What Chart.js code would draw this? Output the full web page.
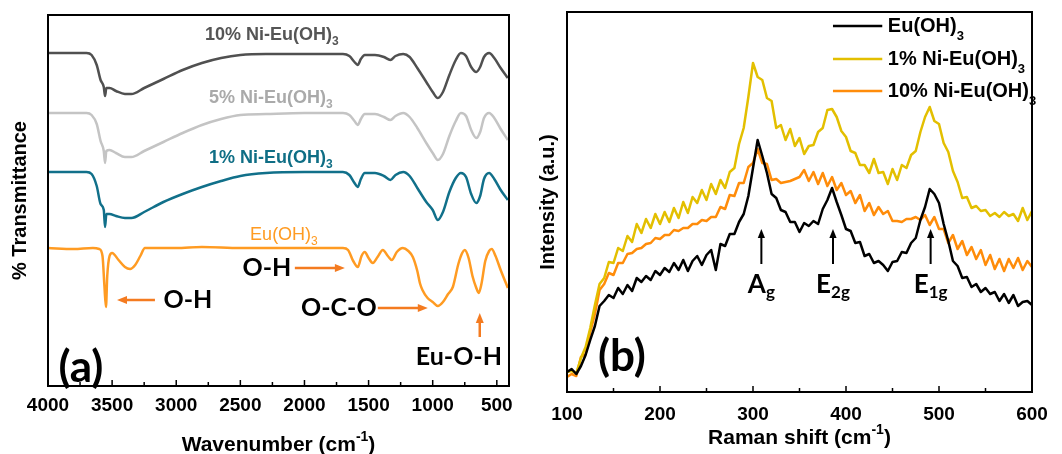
<!DOCTYPE html>
<html>
<head>
<meta charset="utf-8">
<title>FTIR and Raman spectra</title>
<script src="https://cdn.jsdelivr.net/npm/chart.js@4.4.1/dist/chart.umd.min.js"></script>
<style>
  html, body { margin: 0; padding: 0; background: #fff; }
  #wrap { position: relative; width: 1062px; height: 454px; }
  #ftir { position: absolute; left: 0; top: 0; }
  #raman { position: absolute; left: 530px; top: 0; }
</style>
</head>
<body>
<div id="wrap">
  <canvas id="ftir" width="530" height="454"></canvas>
  <canvas id="raman" width="532" height="454"></canvas>
</div>
<script>
// ---- (a) FTIR, wavenumber in cm-1, transmittance in arbitrary offset units
const wnNi = [4000, 3800, 3700, 3660, 3620, 3590, 3565, 3555, 3545, 3520, 3470, 3400, 3350, 3250, 3100, 2950, 2800, 2650, 2500, 2300,
  2000, 1700, 1650, 1610, 1585, 1560, 1530, 1450, 1380, 1330, 1290, 1230, 1180, 1120, 1050, 1000, 960, 920, 870, 820,
  780, 740, 700, 660, 630, 600, 560, 520, 470, 414];
const ftirNi10 = [333, 333, 333, 331, 321, 306, 299, 290, 298, 298, 295, 292, 292, 298, 307, 316, 323, 328, 331, 332,
  332, 332, 330, 324, 321, 327, 331, 331, 329, 326, 330, 332, 329, 318, 304, 294, 288, 294, 311, 326,
  333, 330, 319, 314, 319, 329, 333, 328, 318, 308];
const ftirNi5 = [273, 273, 273, 271, 262, 245, 235, 223, 235, 236, 233, 229, 229, 235, 244, 253, 261, 267, 271, 272,
  273, 273, 271, 265, 261, 267, 272, 272, 269, 266, 270, 273, 269, 258, 243, 233, 226, 232, 250, 265,
  273, 270, 256, 248, 254, 268, 273, 268, 257, 246];
const ftirNi1 = [214, 214, 214, 212, 200, 182, 176, 159, 172, 172, 170, 168, 168, 174, 184, 192, 199, 205, 210, 213,
  214, 214, 211, 203, 199, 207, 213, 213, 210, 206, 211, 214, 210, 198, 184, 176, 166, 174, 194, 208,
  213, 209, 192, 183, 190, 207, 213, 207, 196, 186];
const wnEu = [4000, 3800, 3650, 3600, 3575, 3560, 3548, 3538, 3520, 3500, 3450, 3400, 3360, 3320, 3280, 3244, 3000, 2800, 2500, 2000,
  1700, 1660, 1620, 1584, 1555, 1530, 1500, 1467, 1430, 1389, 1350, 1319, 1280, 1233, 1190, 1155, 1120, 1100, 1080, 1040,
  1000, 960, 920, 880, 843, 800, 770, 750, 720, 690, 660, 641, 620, 590, 560, 540, 510, 470, 414];
const ftirEu = [138, 137, 138, 137, 130, 100, 79, 110, 130, 133, 126, 119, 117, 121, 130, 138, 138, 139, 138, 138,
  138, 136, 125, 119, 130, 134, 128, 123, 129, 136, 130, 126, 134, 138, 135, 129, 115, 103, 96, 88,
  84, 80, 84, 92, 99, 122, 133, 136, 128, 110, 98, 93, 102, 125, 135, 137, 130, 116, 98];
const ftirTicks = [4000, 3500, 3000, 2500, 2000, 1500, 1000, 500];
const ftirMinor = [3750, 3250, 2750, 2250, 1750, 1250, 750];

// ---- (b) Raman, shift in cm-1, intensity in a.u.
const ramanShift = [100, 105, 110, 115, 120, 125, 130, 135, 140, 145, 150, 155, 160, 165, 170, 175, 180, 185, 190, 195,
  200, 205, 210, 215, 220, 225, 230, 235, 240, 245, 250, 255, 260, 265, 270, 275, 280, 285, 290, 295,
  300, 305, 310, 315, 320, 325, 330, 335, 340, 345, 350, 355, 360, 365, 370, 375, 380, 385, 390, 395,
  400, 405, 410, 415, 420, 425, 430, 435, 440, 445, 450, 455, 460, 465, 470, 475, 480, 485, 490, 495,
  500, 505, 510, 515, 520, 525, 530, 535, 540, 545, 550, 555, 560, 565, 570, 575, 580, 585, 590, 595, 600];
const ramanEu = [20, 23, 18, 26, 37, 52, 66, 86, 91, 97, 94, 104, 98, 107, 101, 114, 110, 116, 112, 121,
  117, 124, 120, 129, 122, 132, 121, 131, 136, 127, 137, 142, 122, 148, 146, 158, 158, 170, 178, 196,
  224, 252, 236, 219, 198, 194, 182, 180, 170, 170, 160, 169, 166, 171, 168, 183, 192, 204, 190, 177,
  163, 161, 149, 150, 136, 138, 129, 131, 127, 121, 130, 131, 140, 139, 149, 154, 172, 185, 203, 198,
  189, 168, 151, 131, 126, 114, 115, 105, 108, 100, 104, 98, 100, 91, 98, 89, 97, 86, 90, 91, 87];
const ramanNi1 = [20, 21, 19, 34, 45, 64, 87, 108, 114, 130, 129, 144, 141, 156, 150, 168, 159, 173, 164, 178,
  168, 180, 170, 184, 174, 190, 179, 195, 189, 202, 192, 208, 198, 212, 204, 220, 224, 248, 264, 295,
  329, 315, 312, 294, 291, 264, 267, 252, 263, 246, 254, 238, 246, 247, 260, 264, 282, 283, 275, 261,
  255, 241, 239, 227, 227, 219, 233, 219, 220, 208, 223, 212, 227, 224, 237, 241, 260, 275, 285, 271,
  268, 249, 240, 221, 210, 194, 195, 184, 186, 181, 182, 176, 179, 175, 180, 176, 178, 171, 184, 172, 181];
const ramanNi10 = [15, 18, 16, 35, 38, 60, 78, 102, 108, 119, 117, 129, 129, 138, 139, 143, 144, 148, 149, 154,
  153, 157, 157, 162, 161, 164, 164, 168, 168, 172, 171, 175, 175, 185, 183, 197, 196, 209, 209, 225,
  229, 243, 229, 228, 212, 213, 209, 210, 211, 213, 215, 222, 211, 220, 208, 219, 206, 215, 202, 209,
  197, 201, 189, 197, 181, 189, 177, 185, 178, 181, 171, 171, 170, 173, 173, 175, 172, 177, 167, 175,
  163, 163, 149, 157, 143, 151, 137, 145, 133, 142, 127, 137, 123, 133, 121, 133, 124, 134, 122, 131, 125];
const ramanTicks = [100, 200, 300, 400, 500, 600];
const ramanMinor = [150, 250, 350, 450, 550];

const FONT = "'Liberation Sans', Arial, sans-serif";
const NOTE_FONT = "Lato, 'Open Sans', sans-serif";

function pts(xs, ys) {
  return xs.map((x, i) => ({ x: x, y: ys[i] }));
}

// text with _{sub} and ^{sup} parts
function richParts(s) {
  const parts = [];
  const re = /([_^])\{([^}]*)\}/g;
  let last = 0, m;
  while ((m = re.exec(s))) {
    if (m.index > last) parts.push({ t: s.slice(last, m.index), k: 'n' });
    parts.push({ t: m[2], k: m[1] === '_' ? 'sub' : 'sup' });
    last = re.lastIndex;
  }
  if (last < s.length) parts.push({ t: s.slice(last), k: 'n' });
  return parts;
}

function drawRich(ctx, s, x, y, o) {
  const small = Math.round(o.size * 0.66);
  const fam = o.family || FONT;
  const weight = o.weight || 'bold';
  const fontOf = k => `${weight} ${k === 'n' ? o.size : small}px ${fam}`;
  const parts = richParts(s);
  let w = 0;
  parts.forEach(p => { ctx.font = fontOf(p.k); p.w = ctx.measureText(p.t).width; w += p.w; });
  let cx = o.align === 'left' ? x : x - w / 2;
  ctx.fillStyle = o.color || '#000';
  ctx.textBaseline = 'middle';
  ctx.textAlign = 'left';
  parts.forEach(p => {
    ctx.font = fontOf(p.k);
    let dy = 0;
    if (p.k === 'sub') dy = o.size * (o.subDrop || 0.38);
    if (p.k === 'sup') dy = -o.size * 0.38;
    ctx.fillText(p.t, cx, y + dy);
    cx += p.w;
  });
}

function drawArrow(ctx, x1, y1, x2, y2, color, width, head) {
  const ang = Math.atan2(y2 - y1, x2 - x1);
  const hl = head || 10;
  ctx.strokeStyle = color;
  ctx.fillStyle = color;
  ctx.lineWidth = width;
  ctx.beginPath();
  ctx.moveTo(x1, y1);
  ctx.lineTo(x2 - Math.cos(ang) * hl * 0.8, y2 - Math.sin(ang) * hl * 0.8);
  ctx.stroke();
  ctx.beginPath();
  ctx.moveTo(x2, y2);
  ctx.lineTo(x2 - hl * Math.cos(ang) + hl * 0.4 * Math.sin(ang), y2 - hl * Math.sin(ang) - hl * 0.4 * Math.cos(ang));
  ctx.lineTo(x2 - hl * Math.cos(ang) - hl * 0.4 * Math.sin(ang), y2 - hl * Math.sin(ang) + hl * 0.4 * Math.cos(ang));
  ctx.closePath();
  ctx.fill();
}

// frame, inward ticks, notes, arrows, legend and x title
function makeDecor(cfg) {
  return {
    id: 'decor',
    afterDatasetsDraw(chart) {
      const { ctx, chartArea: a, scales: { x, y } } = chart;
      ctx.save();
      (cfg.arrows || []).forEach(ar => {
        drawArrow(ctx, x.getPixelForValue(ar.x1), y.getPixelForValue(ar.y1),
          x.getPixelForValue(ar.x2), y.getPixelForValue(ar.y2), ar.color, ar.width, ar.head);
      });
      (cfg.texts || []).forEach(t => {
        drawRich(ctx, t.text, x.getPixelForValue(t.x), y.getPixelForValue(t.y), t);
      });
      if (cfg.legend) {
        const lg = cfg.legend;
        chart.data.datasets.forEach((ds, i) => {
          const py = y.getPixelForValue(lg.y[i]);
          ctx.strokeStyle = ds.borderColor;
          ctx.lineWidth = 2.5;
          ctx.beginPath();
          ctx.moveTo(x.getPixelForValue(lg.x1), py);
          ctx.lineTo(x.getPixelForValue(lg.x2), py);
          ctx.stroke();
          drawRich(ctx, ds.label, x.getPixelForValue(lg.xText), py, { size: 20, align: 'left', color: '#000', subDrop: 0.5 });
        });
      }
      // frame
      ctx.strokeStyle = '#000';
      ctx.lineWidth = 2;
      ctx.strokeRect(a.left, a.top, a.right - a.left, a.bottom - a.top);
      ctx.lineWidth = 1.5;
      cfg.major.forEach(v => {
        const px = x.getPixelForValue(v);
        ctx.beginPath(); ctx.moveTo(px, a.bottom); ctx.lineTo(px, a.bottom - 6); ctx.stroke();
      });
      cfg.minor.forEach(v => {
        const px = x.getPixelForValue(v);
        ctx.beginPath(); ctx.moveTo(px, a.bottom); ctx.lineTo(px, a.bottom - 4); ctx.stroke();
      });
      drawRich(ctx, cfg.xTitle, (a.left + a.right) / 2, cfg.xTitleY, { size: 21, color: '#000' });
      ctx.restore();
    }
  };
}

function baseOptions(o) {
  return {
    responsive: false,
    animation: false,
    layout: { padding: { top: o.top, right: o.right, left: 0, bottom: 0 } },
    elements: {
      point: { radius: 0 },
      line: { borderWidth: o.lineWidth, tension: o.tension, cubicInterpolationMode: o.cubic, borderJoinStyle: 'round' }
    },
    plugins: { legend: { display: false }, tooltip: { enabled: false } },
    scales: {
      x: {
        type: 'linear', min: o.xMin, max: o.xMax, reverse: o.reverse,
        afterBuildTicks: s => { s.ticks = o.ticks.map(v => ({ value: v })); },
        afterFit: s => { s.height = o.xHeight; },
        grid: { display: false },
        border: { display: false },
        ticks: { padding: o.tickPad, color: '#000', autoSkip: false, maxRotation: 0,
          callback: v => String(v),
          font: { family: FONT, size: 19, weight: 'bold' } }
      },
      y: {
        min: 0, max: o.yMax,
        afterFit: s => { s.width = o.yWidth; },
        grid: { display: false },
        border: { display: false },
        ticks: { display: false },
        title: { display: true, text: o.yTitle, color: '#000', padding: { top: o.yTitlePad, bottom: 0 },
          font: { family: FONT, size: 20, weight: 'bold' } }
      }
    }
  };
}

// ---- panel (a)
const orangeArrow = '#f47b20';
new Chart(document.getElementById('ftir'), {
  type: 'line',
  data: {
    datasets: [
      { label: '10% Ni-Eu(OH)3', data: pts(wnNi, ftirNi10), borderColor: '#505050' },
      { label: '5% Ni-Eu(OH)3', data: pts(wnNi, ftirNi5), borderColor: '#c4c4c4' },
      { label: '1% Ni-Eu(OH)3', data: pts(wnNi, ftirNi1), borderColor: '#11708a' },
      { label: 'Eu(OH)3', data: pts(wnEu, ftirEu), borderColor: '#ff9b22' }
    ]
  },
  options: baseOptions({
    top: 15, right: 21, lineWidth: 2.5, tension: 0.4, cubic: 'monotone',
    xMin: 405, xMax: 4000, reverse: true, ticks: ftirTicks, xHeight: 68, tickPad: 0,
    yMax: 371, yWidth: 48, yTitle: '% Transmittance', yTitlePad: 8
  }),
  plugins: [makeDecor({
    major: ftirTicks, minor: ftirMinor,
    xTitle: 'Wavenumber (cm^{-1})', xTitleY: 445,
    texts: [
      { text: '10% Ni-Eu(OH)_{3}', x: 2254, y: 351, size: 18, color: '#555555' },
      { text: '5% Ni-Eu(OH)_{3}', x: 2262, y: 288, size: 18, color: '#aaaaaa' },
      { text: '1% Ni-Eu(OH)_{3}', x: 2262, y: 228, size: 18, color: '#0f6e85' },
      { text: 'Eu(OH)_{3}', x: 2160, y: 151, size: 18, weight: 'normal', color: '#ff9b22' },
      { text: 'O-H', x: 2909, y: 86, size: 25, family: NOTE_FONT, color: '#000' },
      { text: 'O-H', x: 2293, y: 118, size: 25, family: NOTE_FONT, color: '#000' },
      { text: 'O-C-O', x: 1732, y: 78, size: 25, family: NOTE_FONT, color: '#000' },
      { text: 'Eu-O-H', x: 796, y: 29, size: 25, family: NOTE_FONT, color: '#000' },
      { text: '(a)', x: 3743, y: 18, size: 44, family: NOTE_FONT, color: '#000' }
    ],
    arrows: [
      { x1: 3166, y1: 86, x2: 3462, y2: 86, color: orangeArrow, width: 2.5, head: 10 },
      { x1: 2075, y1: 118, x2: 1685, y2: 118, color: orangeArrow, width: 2.5, head: 10 },
      { x1: 1428, y1: 78, x2: 1038, y2: 78, color: orangeArrow, width: 2.5, head: 10 },
      { x1: 633, y1: 49, x2: 633, y2: 73, color: orangeArrow, width: 2.5, head: 10 }
    ]
  })]
});

// ---- panel (b)
new Chart(document.getElementById('raman'), {
  type: 'line',
  data: {
    datasets: [
      { label: 'Eu(OH)_{3}', data: pts(ramanShift, ramanEu), borderColor: '#000000' },
      { label: '1% Ni-Eu(OH)_{3}', data: pts(ramanShift, ramanNi1), borderColor: '#e3bf00' },
      { label: '10% Ni-Eu(OH)_{3}', data: pts(ramanShift, ramanNi10), borderColor: '#ff8c0a' }
    ]
  },
  options: baseOptions({
    top: 12, right: 30, lineWidth: 2.5, tension: 0, cubic: 'default',
    xMin: 100, xMax: 600, reverse: false, ticks: ramanTicks, xHeight: 62, tickPad: 3,
    yMax: 380, yWidth: 37, yTitle: 'Intensity (a.u.)', yTitlePad: 6
  }),
  plugins: [makeDecor({
    major: ramanTicks, minor: ramanMinor,
    xTitle: 'Raman shift (cm^{-1})', xTitleY: 438,
    legend: { x1: 386, x2: 439, xText: 445, y: [366, 333, 301] },
    texts: [
      { text: '(b)', x: 159, y: 35, size: 44, family: NOTE_FONT, color: '#000' },
      { text: 'A_{g}', x: 309, y: 107, size: 26, family: NOTE_FONT, color: '#000', subDrop: 0.3 },
      { text: 'E_{2g}', x: 386, y: 107, size: 26, family: NOTE_FONT, color: '#000', subDrop: 0.3 },
      { text: 'E_{1g}', x: 491, y: 107, size: 26, family: NOTE_FONT, color: '#000', subDrop: 0.3 }
    ],
    arrows: [
      { x1: 309, y1: 128, x2: 309, y2: 163, color: '#000', width: 2, head: 9 },
      { x1: 386, y1: 128, x2: 386, y2: 163, color: '#000', width: 2, head: 9 },
      { x1: 491, y1: 128, x2: 491, y2: 163, color: '#000', width: 2, head: 9 }
    ]
  })]
});
</script>
</body>
</html>
